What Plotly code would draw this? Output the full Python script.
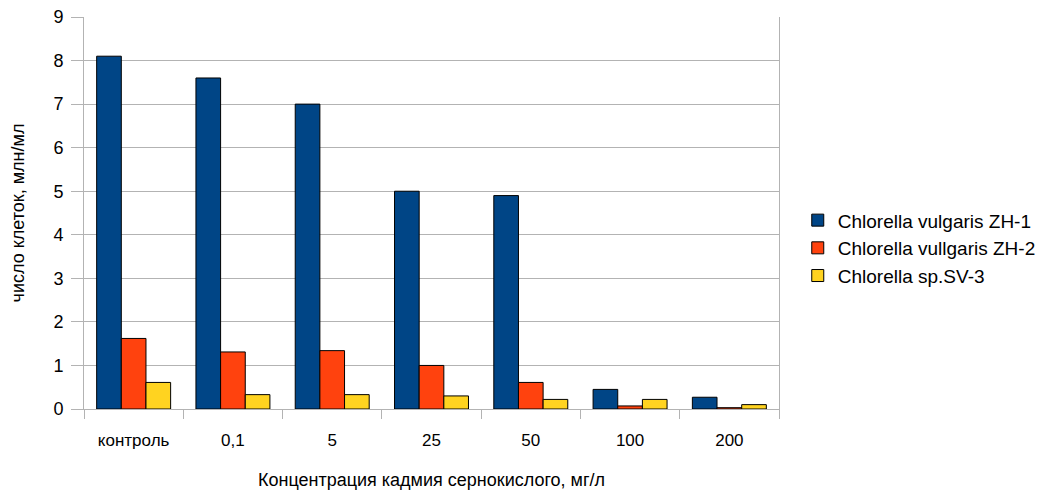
import plotly.graph_objects as go

categories = ["контроль", "0,1", "5", "25", "50", "100", "200"]
zh1 = [8.1, 7.6, 7.0, 5.0, 4.9, 0.45, 0.27]
zh2 = [1.62, 1.31, 1.34, 1.0, 0.61, 0.07, 0.03]
sv3 = [0.61, 0.33, 0.33, 0.30, 0.22, 0.22, 0.10]
names = ["Chlorella vulgaris ZH-1", "Chlorella vullgaris ZH-2", "Chlorella sp.SV-3"]
colors = ["#004586", "#ff420e", "#ffd320"]

fig = go.Figure()
for name, vals, col in zip(names, [zh1, zh2, sv3], colors):
    fig.add_trace(go.Bar(x=categories, y=vals, name=name,
                         marker=dict(color=col, line=dict(color="#000000", width=1))))

font = "Liberation Sans, Arial, sans-serif"
fig.update_layout(
    width=1044, height=482,
    margin=dict(l=76, r=273, t=9, b=81),
    paper_bgcolor="white", plot_bgcolor="white",
    barmode="group", bargap=0.255, bargroupgap=0,
    font=dict(family=font, size=17, color="#000000"),
    legend=dict(x=1.027, y=0.41, xanchor="left", yanchor="middle",
                font=dict(size=19), itemwidth=30),
    xaxis=dict(
        title=dict(text="Концентрация кадмия сернокислого, мг/л", font=dict(size=18), standoff=36),
        automargin=False,
        showline=True, linecolor="#b3b3b3", ticks="outside", tickson="boundaries",
        ticklen=9, tickcolor="#b3b3b3", showgrid=False,
        tickfont=dict(size=17), ticklabelstandoff=16,
    ),
    yaxis=dict(
        title=dict(text="число клеток, млн/мл", font=dict(size=18), standoff=31),
        automargin=False,
        range=[0, 9], dtick=1, showline=True, mirror=True, linecolor="#b3b3b3",
        ticks="outside", ticklen=12, tickcolor="#b3b3b3",
        showgrid=True, gridcolor="#b3b3b3", gridwidth=1, zeroline=False,
        tickfont=dict(size=18), ticklabelstandoff=4, ticklabeloverflow="allow",
    ),
)

fig.write_html("out.html")
